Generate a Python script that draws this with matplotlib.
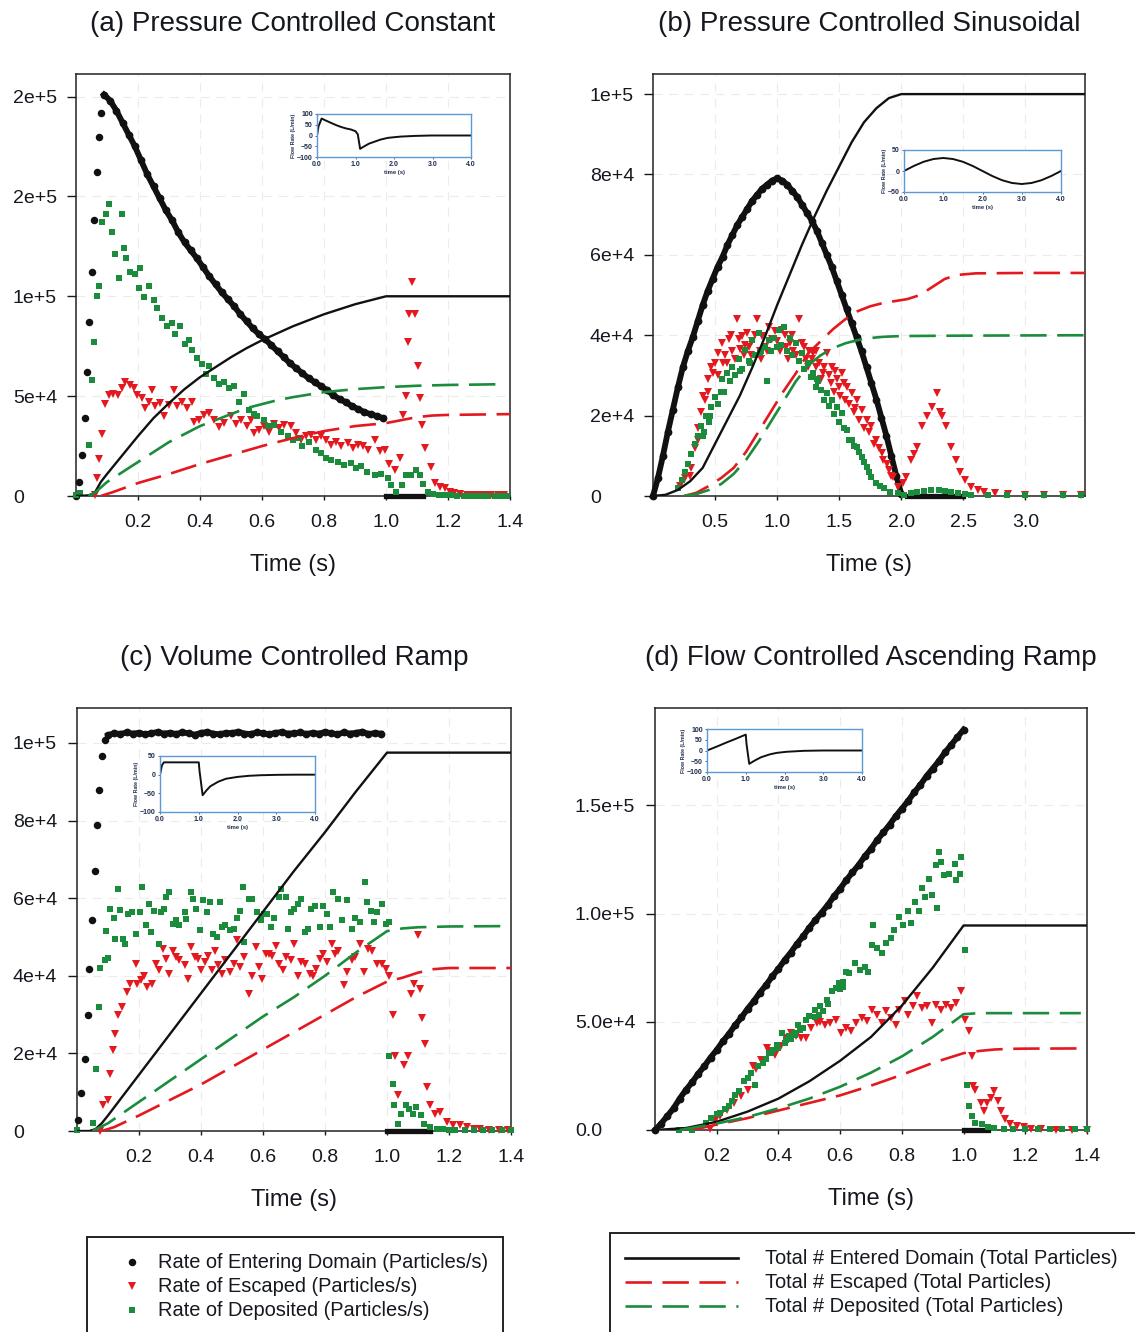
import numpy as np
import matplotlib
matplotlib.use('Agg')
import matplotlib.pyplot as plt
from matplotlib.lines import Line2D
from matplotlib.patches import Rectangle

plt.rcParams['font.family'] = ['Liberation Sans', 'DejaVu Sans']

W, H = 1135, 1332
TXT = '#15181f'
BLK = '#111111'
RED = '#e3191f'
GRN = '#1a8c3c'
INSET_EDGE = '#5b9bd5'
INSET_TXT = '#1f2d4d'

# ---------------- (a) Pressure controlled constant ----------------
a_enter_rise = [(0.0, 0), (0.01, 7.2e3), (0.02, 2.05e4), (0.029, 3.9e4), (0.037, 6.2e4),
                (0.043, 8.7e4), (0.051, 1.12e5), (0.058, 1.38e5), (0.067, 1.62e5),
                (0.075, 1.80e5), (0.081, 1.92e5)]
a_enter_chain = [2.01e5, 1.98e5, 1.93e5, 1.87e5, 1.81e5, 1.75e5, 1.68e5, 1.61e5, 1.55e5, 1.49e5,
                 1.43e5, 1.38e5, 1.32e5, 1.27e5, 1.23e5, 1.19e5, 1.145e5, 1.10e5, 1.06e5, 1.02e5,
                 9.85e4, 9.5e4, 9.1e4, 8.75e4, 8.4e4, 8.1e4, 7.85e4, 7.55e4, 7.25e4, 6.95e4,
                 6.65e4, 6.4e4, 6.15e4, 5.9e4, 5.7e4, 5.5e4, 5.3e4, 5.05e4, 4.85e4, 4.7e4,
                 4.5e4, 4.35e4, 4.2e4, 4.1e4, 4.0e4, 3.9e4]
a_chain_span = (0.09, 0.99)
a_enter_off = [(1.0, 0), (1.02, 0), (1.04, 0), (1.06, 0), (1.08, 0), (1.10, 0), (1.12, 0)]
a_esc = [(0.06, 500), (0.067, 8.8e3), (0.075, 1.84e4), (0.083, 3.1e4), (0.094, 4.6e4), (0.105, 5.05e4),
         (0.12, 5.1e4), (0.137, 5.05e4), (0.148, 5.4e4), (0.159, 5.7e4), (0.175, 5.55e4),
         (0.186, 5.4e4), (0.197, 5.05e4), (0.213, 4.9e4), (0.224, 4.4e4), (0.234, 4.7e4),
         (0.245, 5.3e4), (0.256, 4.5e4), (0.272, 4.65e4), (0.283, 4.0e4), (0.3, 4.55e4),
         (0.315, 5.3e4), (0.326, 4.5e4), (0.342, 4.7e4), (0.358, 4.4e4), (0.375, 4.7e4),
         (0.38, 3.7e4), (0.396, 3.8e4), (0.413, 4.05e4), (0.43, 4.15e4), (0.445, 3.8e4),
         (0.461, 3.47e4), (0.477, 3.64e4), (0.5, 4.0e4), (0.515, 3.6e4), (0.531, 3.8e4),
         (0.553, 3.5e4), (0.564, 3.8e4), (0.575, 3.15e4), (0.59, 3.3e4), (0.607, 3.5e4),
         (0.623, 3.2e4), (0.64, 3.6e4), (0.655, 3.4e4), (0.672, 3.55e4), (0.693, 3.5e4),
         (0.71, 3.15e4), (0.726, 2.8e4), (0.742, 3.0e4), (0.758, 3.05e4), (0.774, 2.8e4),
         (0.79, 3.0e4), (0.807, 2.8e4), (0.823, 2.55e4), (0.84, 2.7e4), (0.855, 2.5e4),
         (0.877, 2.65e4), (0.893, 2.4e4), (0.909, 2.55e4), (0.925, 2.5e4), (0.942, 2.3e4),
         (0.963, 2.8e4), (0.98, 2.25e4), (0.996, 2.3e4), (1.01, 1.6e4), (1.03, 1.3e4),
         (1.044, 1.9e4), (1.055, 4.05e4), (1.063, 5.0e4), (1.07, 7.7e4), (1.074, 9.1e4),
         (1.085, 1.07e5), (1.093, 9.1e4), (1.102, 6.5e4), (1.11, 4.9e4), (1.117, 3.55e4),
         (1.127, 2.4e4), (1.145, 1.45e4), (1.158, 6.5e3), (1.174, 4.7e3), (1.19, 3.8e3),
         (1.206, 2e3), (1.22, 1.3e3), (1.24, 800), (1.26, 600), (1.28, 400), (1.3, 300),
         (1.32, 300), (1.34, 300), (1.36, 300), (1.38, 300)]
a_dep = [(0.0, 500), (0.013, 1300), (0.043, 2.55e4), (0.05, 5.8e4), (0.058, 7.7e4), (0.067, 1.0e5),
         (0.075, 1.05e5), (0.084, 1.37e5), (0.097, 1.41e5), (0.105, 1.46e5), (0.116, 1.32e5),
         (0.126, 1.21e5), (0.138, 1.09e5), (0.149, 1.41e5), (0.155, 1.24e5), (0.162, 1.19e5),
         (0.175, 1.12e5), (0.19, 1.11e5), (0.202, 1.04e5), (0.207, 1.14e5), (0.218, 9.95e4),
         (0.234, 1.05e5), (0.25, 9.8e4), (0.261, 9.4e4), (0.278, 8.9e4), (0.294, 8.5e4),
         (0.31, 8.65e4), (0.32, 8.1e4), (0.337, 8.5e4), (0.353, 7.6e4), (0.364, 7.8e4),
         (0.375, 7.3e4), (0.39, 6.9e4), (0.407, 6.6e4), (0.418, 6.1e4), (0.429, 6.5e4),
         (0.445, 5.9e4), (0.461, 5.6e4), (0.477, 5.7e4), (0.494, 5.4e4), (0.51, 5.5e4),
         (0.526, 4.7e4), (0.542, 5.1e4), (0.558, 4.3e4), (0.575, 4.1e4), (0.585, 4.0e4),
         (0.607, 3.8e4), (0.618, 3.5e4), (0.64, 3.55e4), (0.66, 3.2e4), (0.683, 3.0e4),
         (0.7, 2.8e4), (0.72, 2.9e4), (0.73, 2.5e4), (0.753, 2.7e4), (0.774, 2.3e4),
         (0.79, 2.15e4), (0.807, 1.9e4), (0.823, 1.8e4), (0.845, 1.7e4), (0.866, 1.55e4),
         (0.888, 1.65e4), (0.904, 1.4e4), (0.92, 1.5e4), (0.94, 1.2e4), (0.963, 1.05e4),
         (0.985, 1.1e4), (1.006, 9e3), (1.017, 5.5e3), (1.033, 2e3), (1.05, 5.5e3),
         (1.066, 1.05e4), (1.082, 1.05e4), (1.098, 1.3e4), (1.11, 1.05e4), (1.12, 6e3),
         (1.136, 2e3), (1.15, 800), (1.17, 400), (1.19, 300), (1.21, 300), (1.23, 250),
         (1.25, 250), (1.27, 200), (1.29, 200), (1.31, 200), (1.33, 200), (1.35, 200),
         (1.37, 200), (1.39, 200)]
a_tot_enter = [(0, 0), (0.04, 300), (0.06, 1500), (0.08, 7000), (0.1, 1.1e4), (0.15, 2.05e4),
               (0.2, 3.0e4), (0.25, 3.9e4), (0.3, 4.65e4), (0.35, 5.35e4), (0.4, 5.95e4),
               (0.45, 6.45e4), (0.5, 6.95e4), (0.55, 7.4e4), (0.6, 7.8e4), (0.65, 8.15e4),
               (0.7, 8.5e4), (0.75, 8.8e4), (0.8, 9.1e4), (0.85, 9.35e4), (0.9, 9.6e4),
               (0.95, 9.8e4), (1.0, 1.0e5), (1.4, 1.0e5)]
a_tot_esc = [(0.08, 0), (0.12, 2000), (0.2, 6500), (0.3, 1.1e4), (0.4, 1.6e4), (0.5, 2.05e4),
             (0.6, 2.5e4), (0.7, 2.9e4), (0.8, 3.25e4), (0.9, 3.5e4), (1.0, 3.65e4),
             (1.05, 3.8e4), (1.1, 3.95e4), (1.15, 4.03e4), (1.2, 4.06e4), (1.3, 4.08e4),
             (1.4, 4.1e4)]
a_tot_dep = [(0.04, 0), (0.06, 1500), (0.1, 7000), (0.15, 1.2e4), (0.2, 1.7e4), (0.25, 2.2e4),
             (0.3, 2.7e4), (0.35, 3.1e4), (0.4, 3.5e4), (0.45, 3.8e4), (0.5, 4.1e4),
             (0.55, 4.4e4), (0.6, 4.6e4), (0.65, 4.8e4), (0.7, 4.95e4), (0.8, 5.2e4),
             (0.9, 5.35e4), (1.0, 5.45e4), (1.1, 5.52e4), (1.2, 5.56e4), (1.3, 5.58e4),
             (1.38, 5.6e4)]
a_flow = [(0, 0), (0.04, 43), (0.12, 79), (0.2, 72), (0.36, 59), (0.5, 48), (0.62, 40), (0.75, 33),
          (0.88, 28), (1.0, 20), (1.06, 5), (1.12, -62), (1.23, -50), (1.35, -38), (1.49, -29),
          (1.65, -19), (1.84, -11), (2.0, -8), (2.18, -5), (2.53, -2), (2.96, 0), (3.5, 0), (4.0, 0)]

# ---------------- (b) Pressure controlled sinusoidal ----------------
b_enter_chain = [0, 4.5e3, 1.0e4, 1.6e4, 2.15e4, 2.7e4, 3.2e4, 3.6e4, 3.95e4, 4.35e4,
                 4.75e4, 5.1e4, 5.4e4, 5.7e4, 5.95e4, 6.25e4, 6.5e4, 6.75e4, 6.95e4, 7.15e4,
                 7.35e4, 7.5e4, 7.65e4, 7.75e4, 7.85e4, 7.9e4, 7.85e4, 7.75e4, 7.6e4, 7.45e4,
                 7.25e4, 7.05e4, 6.85e4, 6.6e4, 6.3e4, 6.0e4, 5.7e4, 5.35e4, 5.0e4, 4.65e4,
                 4.3e4, 3.95e4, 3.6e4, 3.2e4, 2.8e4, 2.4e4, 1.95e4, 1.5e4, 1.0e4, 5.0e3, 500]
b_chain_span = (0.0, 2.0)
b_enter_off = [(2.05, 0), (2.1, 0), (2.15, 0), (2.2, 0), (2.25, 0), (2.3, 0), (2.35, 0),
               (2.4, 0), (2.45, 0), (2.5, 0)]
b_esc = [(0.22, 2500), (0.26, 4500), (0.3, 5000), (0.31, 7000), (0.34, 1.2e4), (0.36, 1.4e4),
         (0.364, 1.7e4), (0.39, 2.1e4), (0.4, 2.5e4), (0.42, 2.4e4), (0.44, 2.6e4),
         (0.446, 2.9e4), (0.47, 3.2e4), (0.486, 3.05e4), (0.5, 3.3e4), (0.52, 3.0e4),
         (0.527, 3.55e4), (0.554, 3.8e4), (0.56, 3.3e4), (0.58, 3.5e4), (0.6, 3.3e4),
         (0.61, 3.9e4), (0.63, 4.0e4), (0.64, 3.6e4), (0.66, 3.4e4), (0.677, 4.4e4),
         (0.69, 3.9e4), (0.7, 3.65e4), (0.717, 3.97e4), (0.73, 3.5e4), (0.74, 3.75e4),
         (0.76, 4.05e4), (0.77, 3.7e4), (0.79, 3.5e4), (0.8, 3.85e4), (0.82, 4.0e4),
         (0.84, 4.4e4), (0.86, 3.6e4), (0.87, 3.4e4), (0.88, 3.97e4), (0.9, 3.7e4),
         (0.92, 3.6e4), (0.935, 4.2e4), (0.96, 3.9e4), (0.98, 4.1e4), (1.0, 3.85e4),
         (1.02, 3.6e4), (1.04, 4.13e4), (1.06, 4.0e4), (1.07, 3.7e4), (1.09, 3.4e4),
         (1.1, 3.8e4), (1.12, 4.0e4), (1.13, 3.6e4), (1.15, 3.5e4), (1.18, 4.4e4),
         (1.2, 3.8e4), (1.22, 3.7e4), (1.23, 3.4e4), (1.25, 3.2e4), (1.26, 3.6e4),
         (1.28, 3.4e4), (1.29, 3.55e4), (1.31, 3.6e4), (1.315, 3.2e4), (1.34, 3.3e4),
         (1.35, 2.9e4), (1.37, 3.05e4), (1.38, 3.2e4), (1.4, 3.55e4), (1.42, 3.0e4),
         (1.43, 2.8e4), (1.44, 3.2e4), (1.46, 2.6e4), (1.47, 3.1e4), (1.48, 2.9e4),
         (1.5, 2.7e4), (1.51, 2.5e4), (1.52, 3.05e4), (1.54, 2.8e4), (1.55, 2.4e4),
         (1.56, 2.72e4), (1.58, 2.3e4), (1.6, 2.56e4), (1.62, 2.1e4), (1.63, 2.2e4),
         (1.64, 2.4e4), (1.66, 1.9e4), (1.68, 2.14e4), (1.7, 1.7e4), (1.72, 1.9e4),
         (1.74, 1.6e4), (1.76, 1.73e4), (1.78, 1.3e4), (1.8, 1.4e4), (1.82, 1.2e4),
         (1.845, 1.06e4), (1.85, 9e3), (1.886, 8e3), (1.9, 6.5e3), (1.92, 5e3),
         (1.93, 4.8e3), (1.97, 2.3e3), (2.01, 3.2e3), (2.035, 4.8e3), (2.076, 9e3),
         (2.1, 1.05e4), (2.13, 1.23e4), (2.17, 1.73e4), (2.21, 1.98e4), (2.25, 2.22e4),
         (2.29, 2.56e4), (2.31, 2.1e4), (2.33, 1.98e4), (2.36, 1.73e4), (2.4, 1.23e4),
         (2.44, 9e3), (2.47, 6e3), (2.51, 4e3), (2.565, 2.3e3), (2.62, 1.5e3), (2.67, 1e3),
         (2.755, 800), (2.86, 500), (3.0, 300), (3.15, 200), (3.3, 200), (3.45, 200)]
b_dep = [(0.2, 2000), (0.23, 4000), (0.26, 6000), (0.283, 8000), (0.31, 1.05e4), (0.337, 1.3e4),
         (0.36, 1.5e4), (0.39, 1.73e4), (0.4, 1.5e4), (0.41, 1.6e4), (0.43, 1.98e4),
         (0.45, 1.85e4), (0.46, 2.0e4), (0.47, 2.22e4), (0.5, 2.47e4), (0.52, 2.3e4),
         (0.55, 2.6e4), (0.554, 2.9e4), (0.57, 2.6e4), (0.595, 3.05e4), (0.62, 2.85e4),
         (0.636, 3.2e4), (0.66, 3.0e4), (0.69, 3.4e4), (0.7, 3.1e4), (0.72, 3.15e4),
         (0.745, 3.63e4), (0.77, 3.35e4), (0.78, 3.3e4), (0.8, 3.88e4), (0.82, 3.5e4),
         (0.853, 4.05e4), (0.86, 3.55e4), (0.87, 3.6e4), (0.9, 3.7e4), (0.92, 2.85e4),
         (0.935, 3.88e4), (0.95, 3.6e4), (0.975, 3.92e4), (1.0, 3.7e4), (1.016, 4.13e4),
         (1.03, 3.75e4), (1.057, 4.2e4), (1.08, 3.6e4), (1.1, 3.92e4), (1.12, 3.5e4),
         (1.15, 3.8e4), (1.18, 3.35e4), (1.2, 3.55e4), (1.22, 3.15e4), (1.25, 3.3e4),
         (1.27, 2.95e4), (1.29, 3.05e4), (1.315, 2.72e4), (1.32, 2.9e4), (1.33, 2.85e4),
         (1.356, 2.64e4), (1.38, 2.4e4), (1.4, 2.56e4), (1.42, 2.25e4), (1.44, 2.4e4),
         (1.46, 2.05e4), (1.48, 2.22e4), (1.5, 1.85e4), (1.52, 2.06e4), (1.54, 1.7e4),
         (1.56, 1.64e4), (1.58, 1.4e4), (1.6, 1.4e4), (1.62, 1.25e4), (1.64, 1.23e4),
         (1.66, 1.1e4), (1.68, 9.8e3), (1.7, 8.5e3), (1.72, 7.3e3), (1.74, 6e3),
         (1.76, 4.8e3), (1.8, 3.2e3), (1.83, 2.5e3), (1.86, 1.9e3), (1.91, 1.1e3),
         (1.97, 700), (2.02, 300), (2.08, 800), (2.13, 1.1e3), (2.18, 1.3e3), (2.24, 1.5e3),
         (2.3, 1.4e3), (2.35, 1.3e3), (2.4, 1.0e3), (2.46, 700), (2.51, 500), (2.56, 300),
         (2.7, 200), (2.85, 200), (3.0, 150), (3.15, 150), (3.3, 150), (3.45, 150)]
b_tot_enter = [(0, 0), (0.1, 300), (0.2, 1500), (0.3, 3700), (0.4, 7000), (0.5, 1.3e4),
               (0.6, 1.9e4), (0.7, 2.5e4), (0.8, 3.2e4), (0.9, 3.95e4), (1.0, 4.75e4),
               (1.1, 5.5e4), (1.2, 6.25e4), (1.3, 6.95e4), (1.4, 7.6e4), (1.5, 8.2e4),
               (1.6, 8.8e4), (1.7, 9.3e4), (1.8, 9.65e4), (1.9, 9.9e4), (2.0, 1.0e5),
               (3.48, 1.0e5)]
b_tot_esc = [(0.25, 0), (0.35, 800), (0.45, 2500), (0.55, 4500), (0.65, 7000), (0.75, 1.1e4),
             (0.85, 1.6e4), (0.95, 2.1e4), (1.05, 2.6e4), (1.15, 3.05e4), (1.25, 3.55e4),
             (1.35, 3.85e4), (1.45, 4.15e4), (1.55, 4.4e4), (1.65, 4.6e4), (1.75, 4.72e4),
             (1.85, 4.8e4), (1.95, 4.85e4), (2.05, 4.9e4), (2.15, 5.0e4), (2.25, 5.2e4),
             (2.35, 5.4e4), (2.45, 5.5e4), (2.6, 5.54e4), (3.0, 5.55e4), (3.48, 5.55e4)]
b_tot_dep = [(0.25, 0), (0.35, 500), (0.45, 1500), (0.55, 3000), (0.65, 5500), (0.75, 9000),
             (0.85, 1.35e4), (0.95, 1.85e4), (1.05, 2.35e4), (1.15, 2.85e4), (1.25, 3.25e4),
             (1.35, 3.5e4), (1.45, 3.68e4), (1.55, 3.8e4), (1.65, 3.88e4), (1.75, 3.93e4),
             (1.85, 3.96e4), (2.0, 3.98e4), (2.5, 3.99e4), (3.48, 4.0e4)]
b_flow = [(0, 0), (0.25, 12), (0.5, 22), (0.75, 28.5), (1.0, 31), (1.25, 28.5), (1.5, 22),
          (1.75, 12), (2.0, 0), (2.25, -12), (2.5, -22), (2.75, -28.5), (3.0, -31),
          (3.25, -28.5), (3.5, -22), (3.75, -12), (4.0, 0)]

# ---------------- (c) Volume controlled ramp ----------------
c_enter_rise = [(0.003, 2.9e3), (0.014, 9.8e3), (0.025, 1.86e4), (0.034, 2.98e4), (0.04, 4.18e4),
                (0.049, 5.44e4), (0.058, 6.69e4), (0.065, 7.89e4), (0.072, 8.79e4),
                (0.081, 9.67e4), (0.09, 1.008e5)]
c_enter_chain = [1.02e5, 1.025e5, 1.023e5, 1.027e5, 1.024e5, 1.026e5, 1.022e5, 1.025e5, 1.028e5,
                 1.024e5, 1.026e5, 1.023e5, 1.027e5, 1.025e5, 1.021e5, 1.026e5, 1.028e5, 1.024e5,
                 1.022e5, 1.026e5, 1.025e5, 1.029e5, 1.024e5, 1.023e5, 1.027e5, 1.025e5, 1.022e5,
                 1.026e5, 1.028e5, 1.024e5, 1.025e5, 1.027e5, 1.023e5, 1.026e5, 1.024e5, 1.028e5,
                 1.025e5, 1.022e5, 1.027e5, 1.024e5, 1.026e5, 1.029e5, 1.023e5, 1.025e5, 1.024e5]
c_chain_span = (0.1, 0.98)
c_enter_off = [(1.0, 0), (1.02, 0), (1.04, 0), (1.06, 0), (1.08, 0), (1.10, 0), (1.12, 0), (1.14, 0)]
c_esc = [(0.074, 0), (0.085, 6.6e3), (0.1, 7.9e3), (0.107, 1.48e4), (0.116, 2.08e4), (0.123, 2.5e4),
         (0.132, 3.0e4), (0.145, 3.2e4), (0.162, 3.58e4), (0.172, 3.8e4), (0.189, 4.3e4),
         (0.194, 3.8e4), (0.205, 3.88e4), (0.216, 4.0e4), (0.227, 3.7e4), (0.241, 3.8e4),
         (0.254, 4.3e4), (0.265, 4.14e4), (0.276, 4.7e4), (0.287, 4.44e4), (0.298, 4.05e4),
         (0.309, 4.65e4), (0.32, 4.48e4), (0.33, 4.4e4), (0.347, 4.27e4), (0.358, 3.92e4),
         (0.369, 4.74e4), (0.38, 4.48e4), (0.39, 4.44e4), (0.4, 4.14e4), (0.412, 4.35e4),
         (0.423, 4.52e4), (0.434, 4.14e4), (0.445, 4.65e4), (0.456, 4.27e4), (0.467, 4.05e4),
         (0.478, 4.4e4), (0.492, 4.1e4), (0.505, 4.3e4), (0.516, 4.91e4), (0.527, 4.22e4),
         (0.538, 4.48e4), (0.554, 3.54e4), (0.565, 4.0e4), (0.576, 4.74e4), (0.587, 4.22e4),
         (0.598, 3.92e4), (0.609, 4.57e4), (0.62, 4.57e4), (0.63, 4.52e4), (0.641, 4.78e4),
         (0.652, 4.3e4), (0.663, 4.14e4), (0.674, 4.48e4), (0.69, 4.4e4), (0.7, 4.82e4),
         (0.712, 4.0e4), (0.723, 4.35e4), (0.734, 4.3e4), (0.75, 4.05e4), (0.76, 4.0e4),
         (0.772, 4.18e4), (0.783, 4.44e4), (0.794, 4.57e4), (0.805, 4.35e4), (0.822, 4.82e4),
         (0.832, 4.57e4), (0.843, 4.65e4), (0.86, 3.75e4), (0.87, 4.1e4), (0.887, 4.4e4),
         (0.898, 4.48e4), (0.914, 4.82e4), (0.925, 4.1e4), (0.94, 4.7e4), (0.952, 4.65e4),
         (0.969, 4.3e4), (0.985, 4.3e4), (0.996, 4.18e4), (1.007, 4.0e4), (1.02, 3.0e4),
         (1.027, 1.92e4), (1.034, 9.2e3), (1.056, 1.7e4), (1.067, 1.92e4), (1.078, 3.54e4),
         (1.086, 3.8e4), (1.1, 5.04e4), (1.105, 3.67e4), (1.114, 2.9e4), (1.122, 2.25e4),
         (1.13, 1.13e4), (1.138, 6.6e3), (1.154, 4.5e3), (1.17, 4.9e3), (1.193, 2.3e3),
         (1.214, 1.5e3), (1.236, 1.5e3), (1.258, 1e3), (1.28, 600), (1.3, 400), (1.33, 300),
         (1.36, 300), (1.39, 300)]
c_dep = [(0.0, 300), (0.05, 2000), (0.06, 1.6e4), (0.07, 3.2e4), (0.075, 4.2e4), (0.09, 4.4e4),
         (0.1, 4.45e4), (0.093, 5.15e4), (0.107, 5.73e4), (0.118, 5.5e4), (0.123, 4.95e4),
         (0.132, 6.24e4), (0.14, 5.7e4), (0.147, 4.95e4), (0.156, 4.82e4), (0.165, 5.6e4),
         (0.178, 5.64e4), (0.189, 5.08e4), (0.202, 5.64e4), (0.21, 6.28e4), (0.221, 5.3e4),
         (0.232, 5.85e4), (0.238, 5.12e4), (0.249, 5.68e4), (0.265, 4.82e4), (0.27, 5.64e4),
         (0.281, 5.73e4), (0.287, 6.03e4), (0.298, 6.15e4), (0.309, 5.34e4), (0.32, 5.43e4),
         (0.33, 5.3e4), (0.347, 5.64e4), (0.352, 5.47e4), (0.369, 6.15e4), (0.374, 5.98e4),
         (0.385, 5.73e4), (0.396, 5.17e4), (0.407, 5.94e4), (0.418, 5.64e4), (0.429, 5.9e4),
         (0.44, 5.08e4), (0.45, 5.0e4), (0.462, 5.9e4), (0.467, 5.25e4), (0.478, 5.3e4),
         (0.494, 5.17e4), (0.505, 5.2e4), (0.516, 5.5e4), (0.527, 5.68e4), (0.536, 6.3e4),
         (0.538, 4.87e4), (0.554, 5.98e4), (0.565, 5.98e4), (0.582, 5.64e4), (0.592, 5.43e4),
         (0.603, 5.6e4), (0.614, 5.6e4), (0.625, 5.25e4), (0.636, 5.5e4), (0.652, 6.03e4),
         (0.658, 6.24e4), (0.674, 6.04e4), (0.68, 5.2e4), (0.69, 5.64e4), (0.7, 5.73e4),
         (0.712, 5.85e4), (0.723, 5.98e4), (0.734, 5.12e4), (0.745, 5.2e4), (0.756, 5.73e4),
         (0.767, 5.81e4), (0.783, 5.25e4), (0.794, 5.81e4), (0.805, 5.6e4), (0.816, 5.25e4),
         (0.827, 6.15e4), (0.843, 5.98e4), (0.854, 5.43e4), (0.87, 5.94e4), (0.887, 5.2e4),
         (0.898, 5.5e4), (0.914, 5.38e4), (0.928, 6.41e4), (0.936, 5.9e4), (0.947, 5.68e4),
         (0.958, 5.38e4), (0.969, 5.64e4), (0.985, 5.85e4), (0.996, 5.34e4), (1.007, 5.38e4),
         (1.007, 1.92e4), (1.018, 1.22e4), (1.023, 6.6e3), (1.034, 1.9e3), (1.045, 4.5e3),
         (1.06, 6.6e3), (1.072, 5.7e3), (1.083, 4.5e3), (1.094, 6.2e3), (1.11, 4e3),
         (1.12, 1.9e3), (1.138, 1e3), (1.16, 600), (1.18, 400), (1.2, 300), (1.22, 250),
         (1.25, 200), (1.28, 200), (1.31, 200), (1.34, 200), (1.37, 200), (1.4, 200)]
c_tot_enter = [(0, 0), (0.04, 0), (0.06, 500), (0.08, 2000), (0.1, 4000), (0.2, 1.45e4),
               (0.3, 2.5e4), (0.4, 3.55e4), (0.5, 4.6e4), (0.6, 5.65e4), (0.7, 6.7e4),
               (0.8, 7.7e4), (0.9, 8.75e4), (1.0, 9.75e4), (1.4, 9.75e4)]
c_tot_esc = [(0.08, 0), (0.12, 1000), (0.2, 4000), (0.3, 8000), (0.4, 1.2e4), (0.5, 1.65e4),
             (0.6, 2.1e4), (0.7, 2.55e4), (0.8, 3.0e4), (0.9, 3.45e4), (1.0, 3.85e4),
             (1.05, 3.95e4), (1.1, 4.08e4), (1.15, 4.17e4), (1.2, 4.2e4), (1.4, 4.2e4)]
c_tot_dep = [(0.05, 0), (0.1, 2000), (0.2, 7500), (0.3, 1.3e4), (0.4, 1.85e4), (0.5, 2.4e4),
             (0.6, 2.95e4), (0.7, 3.45e4), (0.8, 4.0e4), (0.9, 4.6e4), (1.0, 5.15e4),
             (1.05, 5.22e4), (1.1, 5.25e4), (1.2, 5.27e4), (1.38, 5.28e4)]
c_flow = [(0, 0), (0.05, 25), (0.1, 33), (0.5, 33), (1.0, 33), (1.02, 10), (1.1, -55), (1.2, -42),
          (1.3, -31), (1.5, -19), (1.7, -11), (2.0, -6), (2.3, -3), (2.6, -1.5), (3.0, -0.5),
          (3.5, 0), (4.0, 0)]

# ---------------- (d) Flow controlled ascending ramp ----------------
d_enter_chain = [0, 3.0e3, 6.5e3, 1.0e4, 1.45e4, 1.85e4, 2.2e4, 2.6e4, 2.95e4, 3.35e4,
                 3.7e4, 4.1e4, 4.45e4, 4.85e4, 5.2e4, 5.6e4, 5.95e4, 6.35e4, 6.7e4, 7.1e4,
                 7.45e4, 7.85e4, 8.2e4, 8.6e4, 8.95e4, 9.35e4, 9.7e4, 1.005e5, 1.04e5, 1.08e5,
                 1.115e5, 1.155e5, 1.19e5, 1.225e5, 1.265e5, 1.30e5, 1.34e5, 1.375e5, 1.41e5,
                 1.45e5, 1.485e5, 1.52e5, 1.56e5, 1.595e5, 1.635e5, 1.67e5, 1.705e5, 1.745e5,
                 1.78e5, 1.815e5, 1.85e5]
d_chain_span = (0.0, 1.0)
d_enter_off = [(1.0, 0), (1.02, 0), (1.04, 0), (1.06, 0), (1.08, 0)]
d_esc = [(0.178, 600), (0.194, 4.1e3), (0.21, 6.4e3), (0.233, 9.2e3), (0.256, 1.26e4),
         (0.278, 1.57e4), (0.3, 1.87e4), (0.317, 2.95e4), (0.328, 2.8e4), (0.345, 3.25e4),
         (0.362, 3.8e4), (0.373, 3.64e4), (0.39, 3.48e4), (0.407, 3.87e4), (0.424, 4.25e4),
         (0.44, 4.48e4), (0.457, 4.33e4), (0.474, 4.25e4), (0.49, 4.25e4), (0.507, 4.71e4),
         (0.524, 4.94e4), (0.535, 5.0e4), (0.552, 4.87e4), (0.568, 4.94e4), (0.585, 5.1e4),
         (0.602, 4.48e4), (0.619, 4.71e4), (0.636, 4.56e4), (0.652, 4.94e4), (0.67, 5.17e4),
         (0.686, 5.02e4), (0.703, 5.56e4), (0.72, 5.33e4), (0.736, 4.94e4), (0.747, 5.48e4),
         (0.764, 5.17e4), (0.78, 4.87e4), (0.792, 5.56e4), (0.809, 5.94e4), (0.82, 5.33e4),
         (0.837, 5.71e4), (0.848, 6.17e4), (0.865, 5.63e4), (0.882, 5.71e4), (0.898, 4.94e4),
         (0.91, 5.79e4), (0.926, 5.56e4), (0.943, 5.79e4), (0.96, 5.63e4), (0.976, 5.86e4),
         (0.993, 6.4e4), (1.004, 5.1e4), (1.016, 4.56e4), (1.027, 3.4e4), (1.032, 2.03e4),
         (1.038, 1.87e4), (1.055, 1.26e4), (1.066, 8.8e3), (1.077, 1.26e4), (1.088, 1.49e4),
         (1.1, 1.8e4), (1.11, 1.34e4), (1.12, 8.8e3), (1.133, 4.9e3), (1.15, 2.6e3),
         (1.172, 1.8e3), (1.195, 1.4e3), (1.217, 600), (1.25, 300), (1.3, 200), (1.35, 200),
         (1.4, 200)]
d_dep = [(0.077, 0), (0.12, 200), (0.166, 3.4e3), (0.183, 5.7e3), (0.2, 7.2e3), (0.21, 8e3),
         (0.228, 9.5e3), (0.24, 1.1e4), (0.25, 1.34e4), (0.26, 1.64e4), (0.273, 1.8e4),
         (0.29, 2.26e4), (0.3, 2.4e4), (0.312, 2.64e4), (0.323, 2.1e4), (0.334, 2.95e4),
         (0.35, 3.1e4), (0.36, 3.3e4), (0.368, 3.56e4), (0.375, 3.55e4), (0.384, 3.7e4),
         (0.396, 3.95e4), (0.4, 3.8e4), (0.412, 4.48e4), (0.42, 4.0e4), (0.424, 4.18e4),
         (0.435, 4.33e4), (0.44, 4.2e4), (0.451, 4.48e4), (0.455, 4.4e4), (0.463, 4.87e4),
         (0.47, 4.6e4), (0.48, 4.71e4), (0.49, 5.1e4), (0.5, 5.25e4), (0.518, 5.56e4),
         (0.52, 5.2e4), (0.53, 5.3e4), (0.535, 5.71e4), (0.546, 5.48e4), (0.557, 6.0e4),
         (0.56, 5.8e4), (0.574, 6.4e4), (0.585, 6.55e4), (0.597, 6.79e4), (0.6, 6.5e4),
         (0.608, 6.86e4), (0.61, 6.6e4), (0.62, 7.32e4), (0.63, 7.25e4), (0.647, 7.7e4),
         (0.664, 7.4e4), (0.68, 7.55e4), (0.69, 7.32e4), (0.703, 8.55e4), (0.708, 9.47e4),
         (0.72, 8.4e4), (0.736, 8.17e4), (0.747, 8.63e4), (0.764, 8.86e4), (0.775, 9.24e4),
         (0.792, 9.86e4), (0.803, 9.47e4), (0.82, 1.01e5), (0.831, 9.55e4), (0.842, 1.055e5),
         (0.854, 1.01e5), (0.865, 1.116e5), (0.876, 1.078e5), (0.887, 1.162e5),
         (0.898, 1.085e5), (0.91, 1.223e5), (0.913, 1.024e5), (0.92, 1.285e5), (0.926, 1.239e5),
         (0.937, 1.177e5), (0.954, 1.185e5), (0.971, 1.23e5), (0.977, 1.154e5), (0.988, 1.185e5),
         (0.993, 1.262e5), (1.004, 8.3e4), (1.01, 2.1e4), (1.016, 1.1e4), (1.027, 6.4e3),
         (1.038, 3.4e3), (1.06, 2.6e3), (1.08, 1.5e3), (1.1, 1e3), (1.13, 600), (1.16, 400),
         (1.2, 300), (1.24, 300), (1.28, 250), (1.32, 250), (1.36, 250), (1.4, 250)]
d_tot_enter = [(0, 0), (0.1, 900), (0.2, 3800), (0.3, 8500), (0.4, 1.45e4), (0.5, 2.25e4),
               (0.6, 3.2e4), (0.7, 4.3e4), (0.8, 5.75e4), (0.9, 7.5e4), (1.0, 9.45e4),
               (1.4, 9.45e4)]
d_tot_esc = [(0.12, 0), (0.2, 2500), (0.3, 5500), (0.4, 9000), (0.5, 1.25e4), (0.6, 1.6e4),
             (0.7, 2.05e4), (0.8, 2.55e4), (0.9, 3.1e4), (1.0, 3.55e4), (1.05, 3.65e4),
             (1.1, 3.72e4), (1.15, 3.75e4), (1.2, 3.76e4), (1.4, 3.77e4)]
d_tot_dep = [(0.08, 0), (0.2, 3000), (0.3, 6000), (0.4, 1.0e4), (0.5, 1.45e4), (0.6, 2.0e4),
             (0.7, 2.65e4), (0.8, 3.4e4), (0.9, 4.3e4), (1.0, 5.35e4), (1.05, 5.4e4),
             (1.38, 5.4e4)]
d_flow = [(0, 0), (0.25, 18), (0.5, 37), (0.75, 55), (1.0, 74), (1.02, 30), (1.09, -62), (1.2, -50),
          (1.28, -42), (1.4, -31), (1.62, -18), (1.8, -11), (2.05, -6), (2.5, -1.5), (3.0, 0),
          (4.0, 0)]


def cols(pairs):
    arr = np.array(pairs, dtype=float)
    return arr[:, 0], arr[:, 1]


fig = plt.figure(figsize=(W / 100, H / 100), dpi=100)
fig.patch.set_facecolor('white')


def panel(box, xlim, ylim, xticks, xticklabels, yticks, yticklabels, label_left, title):
    l, t, r, b = box
    ax = fig.add_axes([l / W, 1 - b / H, (r - l) / W, (b - t) / H])
    ax.set_xlim(*xlim)
    ax.set_ylim(*ylim)
    ax.set_xticks(xticks)
    ax.set_xticklabels(xticklabels)
    ax.set_yticks(yticks)
    ax.set_yticklabels(yticklabels)
    ax.tick_params(axis='y', length=6.5, width=1, direction='out', labelsize=14,
                   colors=TXT, pad=(l - 9 - label_left) * 0.72)
    plt.setp(ax.get_yticklabels(), ha='left')
    ax.tick_params(axis='x', length=3, width=1, direction='out', labelsize=14,
                   colors=TXT, pad=10)
    for s in ax.spines.values():
        s.set_linewidth(1.1)
        s.set_color('#222222')
    ax.grid(True, color='#ececec', lw=0.8, ls=(0, (8, 6)))
    ax.set_axisbelow(True)
    h = b - t
    ax.text(0.5, 1 + 50 / h, title, transform=ax.transAxes, ha='center', va='center',
            fontsize=20, color=TXT)
    ax.set_xlabel('Time (s)', fontsize=17, color=TXT)
    ax.xaxis.set_label_coords(0.5, -69 / h)
    ax.xaxis.label.set_va('center')
    return ax


def rates(ax, rise, chain, span, off, esc, dep):
    kw = dict(ls='none', mew=0, clip_on=False)
    ct = np.linspace(span[0], span[1], len(chain))
    ax.plot(ct, chain, '-', color=BLK, lw=4.2, zorder=3, clip_on=False)
    ax.plot(ct, chain, marker='o', ms=5.6, color=BLK, zorder=3, **kw)
    if rise:
        t, r = cols(rise)
        ax.plot(t, r, marker='o', ms=5.4, color=BLK, zorder=3, **kw)
    t, r = cols(off)
    ax.plot(t, r, '-', color=BLK, lw=3.8, zorder=3, clip_on=False)
    t, r = cols(esc)
    ax.plot(t, r, marker='v', ms=5.3, color=RED, zorder=3, **kw)
    t, r = cols(dep)
    ax.plot(t, r, marker='s', ms=4.4, color=GRN, zorder=3, **kw)


def totals(ax, enter, esc, dep):
    t, r = cols(enter)
    ax.plot(t, r, '-', color=BLK, lw=1.7, zorder=4, solid_capstyle='butt')
    t, r = cols(esc)
    ax.plot(t, r, color=RED, lw=1.9, dashes=(10, 4), zorder=4)
    t, r = cols(dep)
    ax.plot(t, r, color=GRN, lw=1.9, dashes=(10, 4), zorder=4)


def inset(box, flow, ylim, yticks):
    l, t, r, b = box
    ia = fig.add_axes([l / W, 1 - b / H, (r - l) / W, (b - t) / H])
    tt, q = cols(flow)
    ia.plot(tt, q, color=BLK, lw=1.4)
    ia.set_xlim(0, 4)
    ia.set_ylim(*ylim)
    ia.set_xticks([0, 1, 2, 3, 4])
    ia.set_xticklabels(['0.0', '1.0', '2.0', '3.0', '4.0'])
    ia.set_yticks(yticks)
    ia.tick_params(labelsize=5, length=1.5, width=0.5, pad=1.5, colors=INSET_TXT)
    for lab in ia.get_xticklabels() + ia.get_yticklabels():
        lab.set_fontweight('bold')
    for s in ia.spines.values():
        s.set_color(INSET_EDGE)
        s.set_linewidth(1.0)
    ia.set_xlabel('time (s)', fontsize=4.2, labelpad=1.5, color=INSET_TXT, fontweight='bold')
    ia.set_ylabel('Flow Rate (L/min)', fontsize=3.8, labelpad=1, color=INSET_TXT,
                  fontweight='bold')


x14 = [0.2, 0.4, 0.6, 0.8, 1.0, 1.2, 1.4]
x14_lab = ['0.2', '0.4', '0.6', '0.8', '1.0', '1.2', '1.4']

ax_a = panel((76, 74, 510, 496), (0, 1.4), (0, 2.113e5), x14, x14_lab,
             [0, 5e4, 1e5, 1.5e5, 2e5], ['0', '5e+4', '1e+5', '2e+5', '2e+5'], 13,
             '(a) Pressure Controlled Constant')
rates(ax_a, a_enter_rise, a_enter_chain, a_chain_span, a_enter_off, a_esc, a_dep)
totals(ax_a, a_tot_enter, a_tot_esc, a_tot_dep)
inset((317, 114, 471, 157), a_flow, (-100, 100), [-100, -50, 0, 50, 100])

ax_b = panel((653, 74, 1085, 496), (0, 3.48), (0, 1.05e5),
             [0.5, 1.0, 1.5, 2.0, 2.5, 3.0], ['0.5', '1.0', '1.5', '2.0', '2.5', '3.0'],
             [0, 2e4, 4e4, 6e4, 8e4, 1e5], ['0', '2e+4', '4e+4', '6e+4', '8e+4', '1e+5'], 590,
             '(b) Pressure Controlled Sinusoidal')
rates(ax_b, None, b_enter_chain, b_chain_span, b_enter_off, b_esc, b_dep)
totals(ax_b, b_tot_enter, b_tot_esc, b_tot_dep)
inset((904, 150, 1061, 192), b_flow, (-50, 50), [-50, 0, 50])

ax_c = panel((77, 708, 511, 1131), (0, 1.4), (0, 1.09e5), x14, x14_lab,
             [0, 2e4, 4e4, 6e4, 8e4, 1e5], ['0', '2e+4', '4e+4', '6e+4', '8e+4', '1e+5'], 13,
             '(c) Volume Controlled Ramp')
rates(ax_c, c_enter_rise, c_enter_chain, c_chain_span, c_enter_off, c_esc, c_dep)
totals(ax_c, c_tot_enter, c_tot_esc, c_tot_dep)
inset((160, 756, 315, 812), c_flow, (-100, 50), [-100, -50, 0, 50])

ax_d = panel((655, 708, 1087, 1130), (0, 1.4), (0, 1.95e5), x14, x14_lab,
             [0, 5e4, 1e5, 1.5e5], ['0.0', '5.0e+4', '1.0e+5', '1.5e+5'], 575,
             '(d) Flow Controlled Ascending Ramp')
rates(ax_d, None, d_enter_chain, d_chain_span, d_enter_off, d_esc, d_dep)
totals(ax_d, d_tot_enter, d_tot_esc, d_tot_dep)
inset((707, 729, 862, 772), d_flow, (-100, 100), [-100, -50, 0, 50, 100])


# legends drawn in figure pixels
def fx(x):
    return x / W


def fy(y):
    return 1 - y / H


fig.add_artist(Rectangle((fx(87), fy(1345)), (503 - 87) / W, (1345 - 1237) / H,
                         transform=fig.transFigure, fill=False, lw=1.4, ec='#222222'))
fig.add_artist(Rectangle((fx(610), fy(1345)), (1150 - 610) / W, (1345 - 1233) / H,
                         transform=fig.transFigure, fill=False, lw=1.4, ec='#222222'))

rate_entries = [('o', BLK, 5.4, 'Rate of Entering Domain (Particles/s)'),
                ('v', RED, 5.3, 'Rate of Escaped (Particles/s)'),
                ('s', GRN, 4.4, 'Rate of Deposited (Particles/s)')]
for i, (m, c, ms, label) in enumerate(rate_entries):
    y = 1262 + 24 * i
    fig.add_artist(Line2D([fx(132)], [fy(y)], marker=m, ms=ms, color=c, ls='none', mew=0,
                          transform=fig.transFigure))
    fig.text(fx(158), fy(y), label, fontsize=14.4, va='center', color=TXT)

total_entries = [(BLK, None, 'Total # Entered Domain (Total Particles)'),
                 (RED, (10, 4), 'Total # Escaped (Total Particles)'),
                 (GRN, (10, 4), 'Total # Deposited (Total Particles)')]
for i, (c, d, label) in enumerate(total_entries):
    y = 1258 + 24 * i
    ln = Line2D([fx(625), fx(738)], [fy(y), fy(y)], color=c, lw=1.9,
                transform=fig.transFigure)
    if d:
        ln.set_dashes(d)
    fig.add_artist(ln)
    fig.text(fx(765), fy(y), label, fontsize=14.4, va='center', color=TXT)

fig.savefig('out.png', dpi=100)
